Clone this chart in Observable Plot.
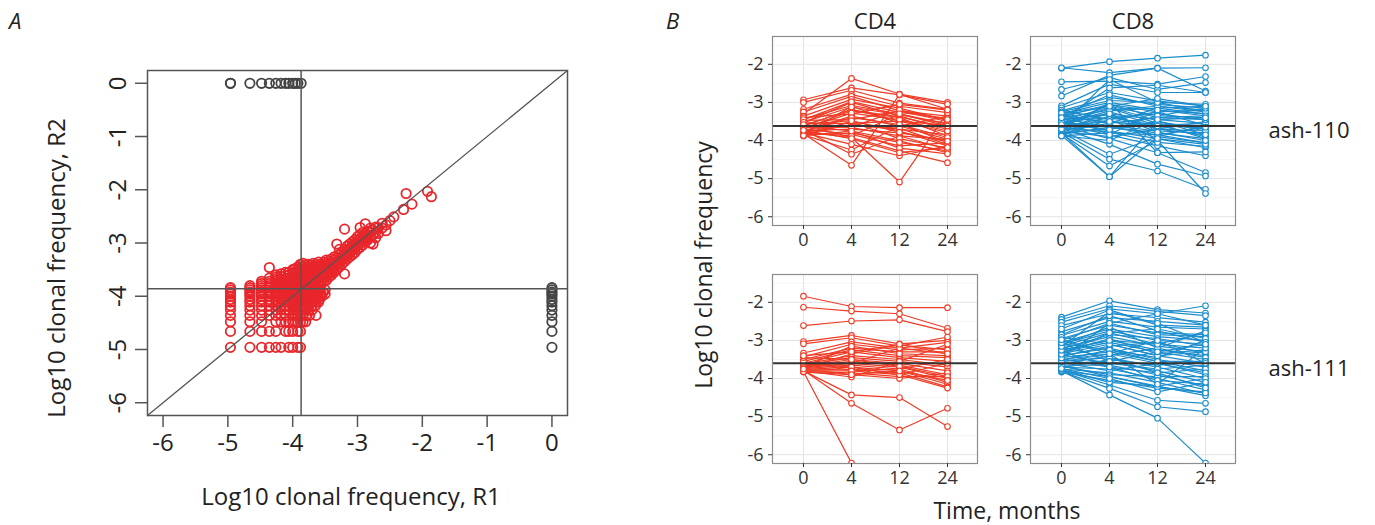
<!DOCTYPE html>
<html><head><meta charset="utf-8">
<script src="https://cdn.jsdelivr.net/npm/d3@7"></script>
<script src="https://cdn.jsdelivr.net/npm/@observablehq/plot@0.6"></script>
<style>
body{margin:0;background:#fff;font-family:"Open Sans",sans-serif;}
#wrap{position:relative;width:1375px;height:525px;overflow:hidden;background:#fff;}
.abs{position:absolute;white-space:nowrap;color:#222;line-height:1;}
.c{transform:translate(-50%,-50%);}
.r{transform:translate(-50%,-50%) rotate(-90deg);}
</style></head><body><div id="wrap"></div>
<script>
// ---------- Panel A data ----------
const axisLimitsA = [-6.24, 0.24];
const ticksA = [-6, -5, -4, -3, -2, -1, 0];
const thresholdR1 = -3.87;
const thresholdR2 = -3.86;
const absentCode = 0; // log10 value used for clonotypes absent in the other replicate
const countLevels = [-4.96, -4.66, -4.48, -4.36, -4.26, -4.18, -4.11, -4.06, -4.00, -3.96, -3.92, -3.88];
// both replicates below threshold: rows = R2 level (low -> high), columns = R1 level
const lowLowMask = [
  "111111011011",
  "111110111011",
  "111011111111",
  "111111101111",
  "111111111111",
  "111111111111",
  "111111111111",
  "111111111111",
  "111111111111",
  "111111111111",
  "111111111111",
  "111111111111"
];
// R1 low level, R2 values above threshold
const aboveR2ByR1 = [
  [-4.96, [-3.84]],
  [-4.66, [-3.84, -3.80]],
  [-4.48, [-3.84, -3.80, -3.76, -3.72]],
  [-4.36, [-3.84, -3.80, -3.76, -3.72, -3.66, -3.46]],
  [-4.26, [-3.84, -3.80, -3.76, -3.72, -3.68, -3.64, -3.60]],
  [-4.18, [-3.84, -3.80, -3.76, -3.72, -3.68, -3.63, -3.58]],
  [-4.11, [-3.84, -3.80, -3.76, -3.72, -3.67, -3.61, -3.55]],
  [-4.06, [-3.84, -3.80, -3.76, -3.71, -3.66, -3.60, -3.55]],
  [-4.00, [-3.84, -3.80, -3.75, -3.70, -3.64, -3.57, -3.50]],
  [-3.96, [-3.84, -3.79, -3.74, -3.68, -3.62, -3.55, -3.48]],
  [-3.92, [-3.84, -3.79, -3.73, -3.67, -3.60, -3.52, -3.45]],
  [-3.88, [-3.84, -3.78, -3.72, -3.65, -3.57, -3.48, -3.40]]
];
// R2 low level, R1 values above threshold
const aboveR1ByR2 = [
  [-4.48, [-3.84, -3.80]],
  [-4.36, [-3.84, -3.79, -3.74, -3.64]],
  [-4.26, [-3.84, -3.80, -3.75, -3.70]],
  [-4.18, [-3.84, -3.80, -3.75, -3.70, -3.65]],
  [-4.11, [-3.84, -3.80, -3.75, -3.70, -3.64, -3.60]],
  [-4.06, [-3.84, -3.80, -3.75, -3.70, -3.65, -3.59]],
  [-4.00, [-3.84, -3.80, -3.75, -3.70, -3.64, -3.58, -3.55]],
  [-3.96, [-3.84, -3.79, -3.74, -3.68, -3.62, -3.56, -3.50]],
  [-3.92, [-3.84, -3.79, -3.73, -3.67, -3.60, -3.53]],
  [-3.88, [-3.84, -3.78, -3.72, -3.66, -3.58, -3.50]]
];
// both above threshold: [R1, [R2 values]]
const highHigh = [
  [-3.84, [-3.80, -3.74, -3.68, -3.62, -3.56, -3.50, -3.45, -3.38]],
  [-3.80, [-3.84, -3.78, -3.72, -3.66, -3.60, -3.54, -3.48, -3.42]],
  [-3.76, [-3.82, -3.76, -3.70, -3.64, -3.58, -3.52, -3.46, -3.40]],
  [-3.72, [-3.84, -3.78, -3.72, -3.66, -3.60, -3.54, -3.48, -3.42]],
  [-3.68, [-3.80, -3.74, -3.68, -3.62, -3.56, -3.50, -3.44, -3.38]],
  [-3.64, [-3.82, -3.76, -3.70, -3.64, -3.58, -3.52, -3.46, -3.40]],
  [-3.60, [-3.78, -3.72, -3.66, -3.60, -3.54, -3.48, -3.42, -3.36]],
  [-3.56, [-3.76, -3.70, -3.64, -3.58, -3.52, -3.46, -3.40]],
  [-3.52, [-3.72, -3.66, -3.60, -3.54, -3.48, -3.42, -3.36]],
  [-3.48, [-3.70, -3.62, -3.56, -3.50, -3.44, -3.38, -3.32]],
  [-3.44, [-3.64, -3.58, -3.52, -3.46, -3.40, -3.34]],
  [-3.40, [-3.60, -3.54, -3.48, -3.42, -3.36, -3.30]],
  [-3.36, [-3.55, -3.48, -3.40, -3.32, -3.26]],
  [-3.32, [-3.50, -3.42, -3.35, -3.28, -3.02]],
  [-3.28, [-3.45, -3.38, -3.30, -3.22, -3.12]],
  [-3.24, [-3.40, -3.32, -3.25, -3.18]],
  [-3.20, [-3.58, -3.35, -3.28, -3.20, -3.12, -2.74]],
  [-3.16, [-3.30, -3.22, -3.14, -3.06]],
  [-3.12, [-3.26, -3.18, -3.10, -3.02]],
  [-3.08, [-3.22, -3.14, -3.06, -2.98]],
  [-3.04, [-3.18, -3.10, -3.02, -2.94]],
  [-3.00, [-3.12, -3.04, -2.96, -2.88]],
  [-2.96, [-3.08, -3.00, -2.92, -2.84, -2.71]],
  [-2.92, [-3.04, -2.96, -2.88, -2.80]],
  [-2.88, [-2.98, -2.90, -2.82, -2.64]],
  [-2.84, [-2.94, -2.86, -2.78]],
  [-2.80, [-3.00, -2.88, -2.80, -2.72]],
  [-2.76, [-3.02, -2.84, -2.76]],
  [-2.72, [-2.90, -2.80, -2.70]],
  [-2.68, [-2.82, -2.71]],
  [-2.62, [-2.72, -2.63]],
  [-2.56, [-2.77, -2.66]],
  [-2.50, [-2.58]],
  [-2.44, [-2.51]],
  [-2.29, [-2.37]],
  [-2.25, [-2.07]],
  [-2.16, [-2.27]],
  [-1.92, [-2.03]],
  [-1.86, [-2.13]]
];
const onlyR1 = [-4.96, -4.96, -4.66, -4.48, -4.36, -4.26, -4.18, -4.11, -4.06, -4.00, -3.96, -3.92, -3.87];
const onlyR2 = [-3.84, -3.88, -3.92, -3.96, -4.00, -4.06, -4.11, -4.18, -4.26, -4.36, -4.48, -4.66, -4.96];

// ---------- Panel B data ----------
const cellTypes = ["CD4", "CD8"];
const patients = ["ash-110", "ash-111"];
const timePoints = [0, 4, 12, 24];
const yTicksB = [-6, -5, -4, -3, -2];
const yMinorB = [-5.5, -4.5, -3.5, -2.5, -1.5];
const yDomainB = [-6.23, -1.27];
const thresholdsB = [{patient: "ash-110", value: -3.62}, {patient: "ash-111", value: -3.60}];
const cd4Ash110 = [
  [-3.30,-2.37,-2.78,-3.00],[-2.93,-2.62,-2.80,-3.05],[-3.00,-2.68,-3.02,-3.18],[-3.18,-2.79,-3.10,-3.27],
  [-3.25,-2.84,-3.22,-3.36],[-3.36,-2.92,-3.15,-3.47],[-3.44,-3.08,-3.30,-3.57],[-3.53,-3.00,-3.36,-3.71],
  [-3.62,-3.18,-3.49,-3.79],[-3.69,-3.22,-3.40,-3.88],[-3.75,-3.36,-3.62,-3.97],[-3.84,-3.10,-3.55,-4.06],
  [-3.88,-3.49,-3.75,-4.14],[-3.50,-3.66,-3.88,-4.23],[-3.62,-3.75,-4.01,-4.32],[-3.70,-3.84,-4.14,-4.06],
  [-3.78,-3.92,-4.27,-4.58],[-3.80,-4.10,-4.40,-4.14],[-3.85,-4.25,-3.62,-3.36],[-3.72,-4.36,-3.88,-3.97],
  [-3.82,-4.65,-2.79,-3.18],[-3.58,-3.92,-5.09,-3.27],[-3.40,-3.30,-3.05,-3.20],[-3.47,-3.45,-3.22,-3.50],
  [-3.55,-3.55,-3.49,-3.60],[-3.65,-3.60,-3.70,-3.85],[-3.74,-3.70,-3.80,-4.00],[-3.80,-3.52,-3.95,-4.20],
  [-3.86,-3.80,-4.05,-4.28],[-3.60,-3.20,-3.38,-3.66],[-3.68,-3.28,-3.45,-3.75],[-3.76,-3.40,-3.58,-3.92],
  [-3.83,-3.58,-3.68,-4.10],[-3.45,-2.98,-3.26,-3.42],[-3.52,-3.12,-3.33,-3.55],[-3.66,-3.65,-3.20,-3.45],
  [-3.79,-3.88,-3.30,-3.62],[-3.87,-3.75,-4.20,-4.35],[-3.58,-3.48,-3.78,-4.02],[-3.73,-3.95,-4.32,-4.18]
];
const cd8Ash110 = [
  [-2.10,-1.93,-1.84,-1.76],[-2.09,-2.22,-2.10,-2.09],[-2.46,-2.44,-2.52,-2.32],[-2.66,-2.35,-2.66,-2.48],
  [-2.83,-2.29,-2.10,-2.70],[-3.09,-2.52,-2.74,-2.74],[-3.14,-2.74,-2.96,-3.10],[-3.22,-2.87,-3.05,-3.15],
  [-3.30,-3.00,-3.20,-3.30],[-3.35,-3.10,-3.35,-3.40],[-3.40,-3.20,-3.10,-3.25],[-3.45,-3.30,-3.45,-3.55],
  [-3.50,-3.40,-3.30,-3.45],[-3.55,-3.15,-3.55,-3.70],[-3.60,-3.50,-3.65,-3.60],[-3.65,-3.05,-3.40,-3.35],
  [-3.70,-3.60,-3.75,-3.80],[-3.75,-3.25,-3.60,-3.90],[-3.80,-3.70,-3.50,-3.75],[-3.85,-3.35,-3.70,-3.50],
  [-3.88,-3.80,-3.85,-4.06],[-3.20,-3.45,-3.25,-3.20],[-3.32,-3.55,-3.15,-3.10],[-3.42,-3.65,-3.80,-3.95],
  [-3.52,-3.75,-3.95,-4.19],[-3.58,-3.85,-4.14,-4.40],[-3.62,-3.95,-4.32,-4.84],[-3.68,-4.10,-4.62,-4.93],
  [-3.72,-4.36,-3.90,-3.60],[-3.78,-4.49,-4.80,-5.28],[-3.82,-4.67,-4.00,-5.39],[-3.86,-4.95,-3.50,-3.70],
  [-3.80,-4.95,-3.90,-4.06],[-3.25,-2.95,-3.00,-3.05],[-3.38,-3.05,-3.25,-3.60],[-3.48,-3.12,-3.48,-3.85],
  [-3.57,-3.22,-3.15,-3.30],[-3.64,-3.40,-3.60,-3.55],[-3.74,-3.55,-3.40,-3.45],[-3.84,-3.65,-3.85,-3.65],
  [-3.36,-2.80,-3.10,-3.20],[-3.46,-3.32,-3.70,-3.75],[-3.54,-3.62,-3.55,-3.95],[-3.66,-3.78,-4.05,-4.15],
  [-3.76,-3.90,-3.70,-3.85],[-3.86,-3.45,-3.95,-4.10],[-3.44,-2.62,-2.55,-2.74],[-3.62,-2.40,-3.00,-3.25],
  [-3.70,-3.00,-4.32,-4.30],[-3.50,-3.72,-3.35,-3.15],[-3.30,-3.85,-3.20,-3.35],[-3.88,-4.00,-3.45,-3.40],
  [-3.58,-3.30,-3.78,-4.00],[-3.28,-3.10,-2.90,-3.10],[-3.40,-3.50,-3.62,-3.65]
];
const cd4Ash111 = [
  [-1.84,-2.11,-2.14,-2.14],[-2.13,-2.23,-2.30,-2.68],[-2.61,-2.49,-2.46,-2.77],[-3.03,-2.87,-3.09,-3.00],
  [-3.09,-2.93,-3.15,-2.91],[-3.33,-3.04,-3.20,-3.05],[-3.43,-3.10,-3.25,-3.20],[-3.50,-3.20,-3.30,-3.30],
  [-3.55,-3.25,-3.40,-3.45],[-3.60,-3.30,-3.45,-3.55],[-3.62,-3.40,-3.50,-3.65],[-3.65,-3.45,-3.55,-3.70],
  [-3.68,-3.50,-3.60,-3.80],[-3.70,-3.55,-3.65,-3.90],[-3.72,-3.60,-3.70,-4.00],[-3.74,-3.65,-3.75,-4.10],
  [-3.76,-3.70,-3.80,-4.15],[-3.78,-3.75,-3.85,-4.22],[-3.80,-3.80,-3.90,-4.25],[-3.82,-3.85,-3.95,-3.95],
  [-3.83,-3.90,-4.00,-3.85],[-3.80,-3.96,-3.55,-3.10],[-3.75,-3.35,-3.12,-3.25],[-3.70,-3.15,-3.35,-3.40],
  [-3.65,-3.60,-3.20,-3.35],[-3.60,-3.70,-3.90,-3.60],[-3.55,-3.80,-3.75,-3.50],[-3.80,-4.43,-4.50,-5.26],
  [-3.78,-4.65,-5.35,-4.78],[-3.82,-6.22,null,null],[-3.45,-3.50,-3.68,-3.95],[-3.40,-3.30,-3.10,-3.35],
  [-3.75,-3.90,-3.80,-4.05]
];
const cd8Ash111 = [
  [-2.39,-1.96,-2.19,-2.28],[-2.45,-2.09,-2.24,-2.35],[-2.52,-2.17,-2.30,-2.09],[-2.61,-2.30,-2.40,-2.52],
  [-2.77,-2.40,-2.50,-2.60],[-2.87,-2.50,-2.65,-2.70],[-2.95,-2.60,-2.80,-2.85],[-3.05,-2.70,-2.90,-3.00],
  [-3.10,-2.75,-3.00,-3.10],[-3.15,-2.80,-3.10,-3.20],[-3.20,-2.90,-3.15,-3.30],[-3.25,-3.00,-3.25,-3.40],
  [-3.30,-3.05,-3.30,-3.50],[-3.35,-3.10,-3.40,-3.60],[-3.40,-3.20,-3.50,-3.70],[-3.45,-3.30,-3.55,-3.80],
  [-3.50,-3.35,-3.60,-3.90],[-3.55,-3.45,-3.70,-4.00],[-3.60,-3.55,-3.80,-4.10],[-3.65,-3.65,-3.90,-4.20],
  [-3.70,-3.75,-4.00,-4.30],[-3.75,-3.85,-4.10,-4.40],[-3.80,-3.95,-4.20,-4.45],[-3.83,-4.05,-4.25,-4.35],
  [-3.78,-4.17,-4.57,-4.65],[-3.82,-4.26,-4.74,-4.87],[-3.80,-4.43,-5.04,-6.22],[-2.70,-2.20,-2.60,-2.65],
  [-2.85,-2.35,-2.75,-3.05],[-3.00,-2.55,-2.85,-2.90],[-3.12,-2.65,-3.20,-2.75],[-3.22,-2.85,-2.95,-3.15],
  [-3.32,-2.95,-3.35,-3.25],[-3.42,-3.15,-3.05,-3.35],[-3.52,-3.25,-3.45,-3.00],[-3.62,-3.40,-3.20,-3.45],
  [-3.72,-3.50,-3.65,-3.55],[-3.38,-3.60,-3.75,-3.65],[-3.48,-3.70,-3.85,-3.75],[-3.58,-3.80,-3.60,-3.85],
  [-3.68,-3.90,-3.95,-3.95],[-3.28,-3.70,-4.05,-4.15],[-3.18,-3.45,-3.85,-4.25],[-3.08,-3.25,-3.55,-3.55],
  [-2.92,-3.10,-3.40,-3.30],[-3.76,-4.10,-4.20,-4.00],[-3.66,-3.95,-4.22,-4.38],[-3.56,-3.35,-4.15,-3.20],
  [-3.46,-2.55,-2.30,-2.60],[-3.36,-2.80,-2.70,-2.95],[-3.26,-3.00,-3.10,-2.80],[-3.16,-2.25,-2.55,-3.05],
  [-3.06,-3.55,-3.30,-3.10],[-2.98,-3.35,-3.00,-3.60],[-3.74,-4.00,-4.35,-4.10]
];

// ---------- colours / fonts ----------
const FONT = '"Open Sans", sans-serif';
const redA = "#e8262b", greyA = "#555555";
const cellColors = ["#ee3b25", "#1b8ccc"];

// ---------- build tables ----------
const sharedPoints = [];
lowLowMask.forEach((row, i) => row.split("").forEach((c, j) => { if (c === "1") sharedPoints.push({r1: countLevels[j], r2: countLevels[i]}); }));
aboveR2ByR1.forEach(([r1, ys]) => ys.forEach(r2 => sharedPoints.push({r1, r2})));
aboveR1ByR2.forEach(([r2, xs]) => xs.forEach(r1 => sharedPoints.push({r1, r2})));
highHigh.forEach(([r1, ys]) => ys.forEach(r2 => sharedPoints.push({r1, r2})));
const uniquePoints = onlyR1.map(r1 => ({r1, r2: absentCode})).concat(onlyR2.map(r2 => ({r1: absentCode, r2})));

const seriesB = [
  {cell: "CD4", patient: "ash-110", values: cd4Ash110},
  {cell: "CD8", patient: "ash-110", values: cd8Ash110},
  {cell: "CD4", patient: "ash-111", values: cd4Ash111},
  {cell: "CD8", patient: "ash-111", values: cd8Ash111}
];
const rowsB = seriesB.flatMap(s => s.values.flatMap((v, i) => v.map((value, j) => ({
  id: `${s.cell}-${s.patient}-${i}`, cell: s.cell, patient: s.patient, time: timePoints[j], value
}))));

const fmt = d => String(d);
const wrap = document.getElementById("wrap");

// ---------- Panel A ----------
const plotA = Plot.plot({
  width: 640, height: 525,
  marginLeft: 147, marginRight: 73, marginTop: 70, marginBottom: 110,
  style: {fontFamily: FONT, fontSize: "24px", color: "#222", background: "transparent", overflow: "visible"},
  x: {domain: axisLimitsA},
  y: {domain: axisLimitsA},
  marks: [
    Plot.dot(sharedPoints, {x: "r1", y: "r2", r: 4.7, stroke: redA, strokeWidth: 1.8}),
    Plot.dot(uniquePoints, {x: "r1", y: "r2", r: 4.7, stroke: "#444", strokeWidth: 1.8}),
    Plot.line(axisLimitsA, {x: d => d, y: d => d, stroke: greyA, strokeWidth: 1.3}),
    Plot.ruleX([thresholdR1], {stroke: greyA, strokeWidth: 1.5}),
    Plot.ruleY([thresholdR2], {stroke: greyA, strokeWidth: 1.5}),
    Plot.frame({stroke: greyA, strokeWidth: 1.5}),
    Plot.axisX(ticksA, {tickSize: 12, tickPadding: 6, tickFormat: fmt, label: null, stroke: greyA, strokeWidth: 1.5, fill: "#222"}),
    Plot.axisY(ticksA, {tickSize: 12, tickPadding: 10, tickRotate: -90, tickFormat: fmt, label: null, stroke: greyA, strokeWidth: 1.5, fill: "#222"})
  ]
});
plotA.style.position = "absolute"; plotA.style.left = "0px"; plotA.style.top = "0px";
wrap.appendChild(plotA);

// ---------- Panel B ----------
const plotB = Plot.plot({
  width: 715, height: 525,
  marginLeft: 111, marginRight: 139, marginTop: 35, marginBottom: 61,
  style: {fontFamily: FONT, fontSize: "17px", color: "#333", background: "transparent", overflow: "visible"},
  fx: {domain: cellTypes, paddingInner: 0.2046, paddingOuter: 0},
  fy: {domain: patients, paddingInner: 0.205, paddingOuter: 0},
  x: {type: "point", domain: timePoints, padding: 0.6},
  y: {domain: yDomainB},
  color: {domain: cellTypes, range: cellColors},
  marks: [
    Plot.gridY(yMinorB, {stroke: "#f2f2f2", strokeOpacity: 1, strokeWidth: 0.8}),
    Plot.gridY(yTicksB, {stroke: "#e3e3e3", strokeOpacity: 1, strokeWidth: 1}),
    Plot.gridX(timePoints, {stroke: "#e3e3e3", strokeOpacity: 1, strokeWidth: 1}),
    Plot.line(rowsB, {x: "time", y: "value", z: "id", fx: "cell", fy: "patient", stroke: "cell", strokeWidth: 1.2, clip: true}),
    Plot.dot(rowsB, {x: "time", y: "value", fx: "cell", fy: "patient", stroke: "cell", fill: "white", r: 2.8, strokeWidth: 1.1, clip: true}),
    Plot.ruleY(thresholdsB, {y: "value", fy: "patient", stroke: "#333", strokeWidth: 2}),
    Plot.frame({stroke: "#8c8c8c", strokeWidth: 1.2}),
    Plot.axisX(timePoints, {facetAnchor: null, tickSize: 4, tickPadding: 4, label: null, stroke: "#333", fill: "#333", fontSize: 18}),
    Plot.axisY(yTicksB, {facetAnchor: null, tickSize: 4, tickPadding: 5, tickFormat: fmt, label: null, stroke: "#333", fill: "#333", fontSize: 18}),
    Plot.axisFx({anchor: "top", tickSize: 0, tickPadding: 8, label: null, fontSize: 22, fill: "#222"}),
    Plot.axisFy({anchor: "right", tickSize: 0, tickPadding: 33, label: null, fontSize: 22, fill: "#222"})
  ]
});
plotB.style.position = "absolute"; plotB.style.left = "660px"; plotB.style.top = "0px";
wrap.appendChild(plotB);

// ---------- text labels ----------
const labels = [
  {text: "A", x: 9, y: 9, size: 22, cls: "", italic: true},
  {text: "B", x: 666, y: 9, size: 22, cls: "", italic: true},
  {text: "Log10 clonal frequency, R2", x: 56, y: 268, size: 24, cls: "r"},
  {text: "Log10 clonal frequency, R1", x: 351, y: 496, size: 24, cls: "c"},
  {text: "Log10 clonal frequency", x: 703, y: 265, size: 23, cls: "r"},
  {text: "Time, months", x: 1007, y: 510, size: 23, cls: "c"}
];
for (const l of labels) {
  const d = document.createElement("div");
  d.className = "abs " + l.cls;
  d.textContent = l.text;
  d.style.left = l.x + "px"; d.style.top = l.y + "px";
  d.style.fontSize = l.size + "px";
  if (l.italic) d.style.fontStyle = "italic";
  wrap.appendChild(d);
}
</script></body></html>
